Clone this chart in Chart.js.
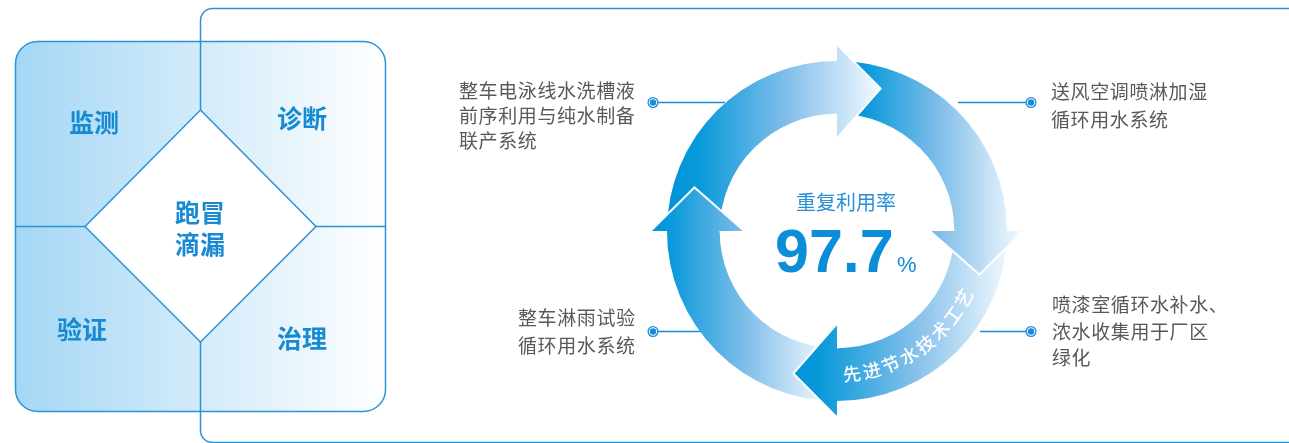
<!DOCTYPE html>
<html>
<head>
<meta charset="utf-8">
<script src="https://cdn.jsdelivr.net/npm/chart.js@4.4.1/dist/chart.umd.min.js"></script>
<style>
  html, body { margin: 0; padding: 0; background: #fff; }
  canvas { display: block; }
</style>
</head>
<body>
<canvas id="cycle" width="1289" height="443"></canvas>
<script>
// four water re-use systems, one arrow each (clockwise from the left)
const systems = [
    ['整车电泳线水洗槽液', '前序利用与纯水制备', '联产系统'],
    ['送风空调喷淋加湿', '循环用水系统'],
    ['喷漆室循环水补水、', '浓水收集用于厂区', '绿化'],
    ['整车淋雨试验', '循环用水系统']
];
const shares = [25, 25, 25, 25];
const rateLabel = '重复利用率';
const rateValue = '97.7';
const rateUnit = '%';
const arcCaption = '先进节水技术工艺';
const panelCells = ['监测', '诊断', '验证', '治理'];
const panelCenter = ['跑冒', '滴漏'];

const BLUE = '#1a8cd6';
const CJK = '"Noto Sans CJK SC", "Noto Sans", sans-serif';

// gradient span per arrow, as fractions of the outer radius from the centre
const gradFrom = [-1.0, 0.0, -0.3, -1.15];
const gradTo = [0.25, 1.08, 1.02, -0.05];
let grads = [];

function arrowGrad(ctx, i, cx, R) {
    if (grads[i]) return grads[i];
    let g = ctx.createLinearGradient(cx + gradFrom[i] * R, 0, cx + gradTo[i] * R, 0);
    g.addColorStop(0, '#0093d9');
    g.addColorStop(0.15, '#0899da');
    g.addColorStop(0.55, '#7ebde9');
    g.addColorStop(1, '#f3f9fe');
    grads[i] = g;
    return g;
}

function dot(ctx, x, y) {
    ctx.fillStyle = BLUE;
    ctx.beginPath(); ctx.arc(x, y, 5.5, 0, Math.PI * 2); ctx.fill();
    ctx.fillStyle = '#fff';
    ctx.beginPath(); ctx.arc(x, y, 4.2, 0, Math.PI * 2); ctx.fill();
    ctx.fillStyle = BLUE;
    ctx.beginPath(); ctx.arc(x, y, 3.2, 0, Math.PI * 2); ctx.fill();
}

function label(ctx, lines, x, y, lh) {
    ctx.font = '19px ' + CJK;
    ctx.letterSpacing = '0.6px';
    ctx.fillStyle = '#595959';
    ctx.textAlign = 'left';
    ctx.textBaseline = 'middle';
    lines.forEach((t, k) => ctx.fillText(t, x, y + k * lh));
    ctx.letterSpacing = '0px';
}

const backdrop = {
    id: 'backdrop',
    beforeDatasetsDraw(chart) {
        const ctx = chart.ctx;
        ctx.save();

        // left panel
        let pg = ctx.createLinearGradient(15, 0, 386, 0);
        pg.addColorStop(0, '#a4d7f5');
        pg.addColorStop(0.5, '#d3ebfa');
        pg.addColorStop(1, '#ffffff');
        ctx.beginPath();
        ctx.roundRect(15.5, 41.5, 370, 370, 22);
        ctx.fillStyle = pg;
        ctx.fill();
        ctx.strokeStyle = '#2a93d6';
        ctx.lineWidth = 1.5;
        ctx.stroke();

        ctx.beginPath();
        ctx.moveTo(15.5, 226.5); ctx.lineTo(385.5, 226.5);
        ctx.stroke();

        // big frame on the right, runs through the panel divider
        ctx.beginPath();
        ctx.roundRect(200.5, 8.5, 1100, 434, 12);
        ctx.stroke();

        // diamond
        ctx.beginPath();
        ctx.moveTo(200.5, 110); ctx.lineTo(316, 226.5);
        ctx.lineTo(200.5, 342); ctx.lineTo(85, 226.5);
        ctx.closePath();
        ctx.fillStyle = '#fff';
        ctx.fill();
        ctx.stroke();

        ctx.font = 'bold 25px ' + CJK;
        ctx.fillStyle = '#168ad3';
        ctx.textAlign = 'center';
        ctx.textBaseline = 'middle';
        const cellPos = [[94, 122], [302, 118], [82, 329], [302, 338]];
        panelCells.forEach((t, k) => ctx.fillText(t, cellPos[k][0], cellPos[k][1]));
        ctx.fillText(panelCenter[0], 200, 212);
        ctx.fillText(panelCenter[1], 200, 244);

        // connectors
        ctx.strokeStyle = BLUE;
        ctx.lineWidth = 1.5;
        const links = [[653, 725, 102], [958, 1031, 102], [653, 728, 331], [980, 1031, 331]];
        links.forEach(l => {
            ctx.beginPath(); ctx.moveTo(l[0], l[2] + 0.5); ctx.lineTo(l[1], l[2] + 0.5); ctx.stroke();
        });
        dot(ctx, 653, 102.5);
        dot(ctx, 1031, 102.5);
        dot(ctx, 653, 331.5);
        dot(ctx, 1031, 331.5);

        label(ctx, systems[0], 459, 91, 25);
        label(ctx, systems[1], 1051, 92, 28);
        label(ctx, systems[2], 1052, 305, 26.5);
        label(ctx, systems[3], 518, 318, 27.5);
        ctx.restore();
    },
    afterDatasetsDraw(chart) {
        const ctx = chart.ctx;
        const meta = chart.getDatasetMeta(0);
        ctx.save();
        meta.data.forEach((arc, i) => {
            const p = arc.getProps(['x', 'y', 'endAngle', 'innerRadius', 'outerRadius']);
            const e = p.endAngle;
            const rIn = p.innerRadius - 23, rOut = p.outerRadius + 15;
            const tipA = e + 16.5 * Math.PI / 180;
            const tipR = (p.innerRadius + p.outerRadius) / 2 + 5;
            const pt = (r, a) => [p.x + r * Math.cos(a), p.y + r * Math.sin(a)];
            const a0 = pt(p.outerRadius, e), a1 = pt(rOut, e), t = pt(tipR, tipA), b1 = pt(rIn, e), b0 = pt(p.innerRadius, e);
            // white outline on the outer sides only
            ctx.beginPath();
            ctx.moveTo(a0[0], a0[1]); ctx.lineTo(a1[0], a1[1]); ctx.lineTo(t[0], t[1]);
            ctx.lineTo(b1[0], b1[1]); ctx.lineTo(b0[0], b0[1]);
            ctx.strokeStyle = '#fff';
            ctx.lineWidth = 4;
            ctx.lineJoin = 'miter';
            ctx.stroke();
            ctx.beginPath();
            ctx.moveTo(a0[0], a0[1]); ctx.lineTo(a1[0], a1[1]); ctx.lineTo(t[0], t[1]);
            ctx.lineTo(b1[0], b1[1]); ctx.lineTo(b0[0], b0[1]);
            ctx.closePath();
            ctx.fillStyle = arrowGrad(ctx, i, p.x, p.outerRadius);
            ctx.fill();
        });

        // caption along the lower-right arrow
        const c = meta.data[2].getProps(['x', 'y', 'startAngle', 'endAngle', 'innerRadius', 'outerRadius']);
        const r = (c.innerRadius + c.outerRadius) / 2;
        const aFirst = c.endAngle - 6 * Math.PI / 180;
        const aLast = c.startAngle + 28 * Math.PI / 180;
        const chars = Array.from(arcCaption);
        ctx.font = '500 18px ' + CJK;
        ctx.fillStyle = '#fff';
        ctx.textAlign = 'center';
        ctx.textBaseline = 'middle';
        chars.forEach((ch, k) => {
            const a = aFirst + (aLast - aFirst) * k / (chars.length - 1);
            ctx.save();
            ctx.translate(c.x + r * Math.cos(a), c.y + r * Math.sin(a));
            ctx.rotate(a - Math.PI / 2);
            ctx.fillText(ch, 0, 0);
            ctx.restore();
        });

        // centre figure
        const cx = c.x, cy = c.y;
        ctx.fillStyle = '#2a90d6';
        ctx.font = '20px ' + CJK;
        ctx.fillText(rateLabel, cx + 9, cy - 29);
        ctx.fillStyle = '#0b8dd8';
        ctx.textAlign = 'left';
        ctx.textBaseline = 'alphabetic';
        ctx.font = 'bold 61px "Liberation Sans", Arial, sans-serif';
        ctx.fillText(rateValue, cx - 62, cy + 41);
        ctx.font = '22px "Liberation Sans", Arial, sans-serif';
        ctx.fillText(rateUnit, cx + 60, cy + 41);
        ctx.restore();
    }
};

const ctx = document.getElementById('cycle').getContext('2d');
const chart = new Chart(ctx, {
    type: 'doughnut',
    data: {
        labels: systems.map(s => s.join('')),
        datasets: [{
            data: shares,
            borderWidth: 0,
            backgroundColor: function(c) {
                const a = c.chart.chartArea;
                if (!a) return '#0093d9';
                const cx = (a.left + a.right) / 2;
                const R = Math.min(a.right - a.left, a.bottom - a.top) / 2;
                return arrowGrad(c.chart.ctx, c.dataIndex, cx, R);
            }
        }]
    },
    options: {
        responsive: false,
        animation: false,
        events: [],
        rotation: -90,
        cutout: '69%',
        layout: { padding: { left: 667, right: 282, top: 61, bottom: 42 } },
        plugins: { legend: { display: false }, tooltip: { enabled: false } }
    },
    plugins: [backdrop]
});
</script>
</body>
</html>
